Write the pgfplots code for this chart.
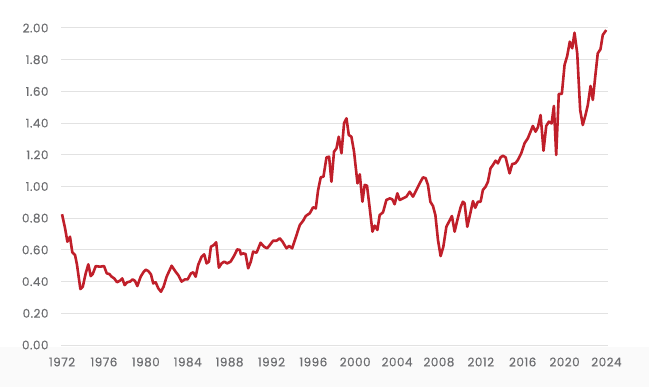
\documentclass[border=0pt]{standalone}
\usepackage{pgfplots}
\pgfplotsset{compat=1.18}
\usepackage{fontspec}
\setmainfont{Poppins}
\newfontfamily\labfont{Poppins}[LetterSpace=4, FakeBold=0.35]
\definecolor{linered}{HTML}{C01F2A}
\definecolor{gridgray}{HTML}{E2E2E2}
\definecolor{labgray}{HTML}{6D6E71}
\begin{document}
\begin{tikzpicture}[x=1bp,y=1bp]
\fill[white] (0,0) rectangle (649,387);
\fill[black!2] (0,0) rectangle (649,40);
\useasboundingbox (0,0) rectangle (649,387);
\begin{axis}[
  at={(61bp,42bp)}, anchor=south west,
  scale only axis, width=547bp, height=317bp,
  xmin=1971.9, xmax=2024.15, ymin=0, ymax=2,
  axis line style={draw=none},
  xtick={1972,1976,...,2024},
  ytick={0,0.2,...,2.01},
  major tick length=0pt,
  ymajorgrids, grid style={gridgray, line width=1bp},
  tick label style={font=\labfont\fontsize{12}{13}\selectfont, text=labgray},
  /pgf/number format/assume math mode=true,
  x tick label style={/pgf/number format/1000 sep={}, yshift=-9bp},
  y tick label style={/pgf/number format/.cd, fixed, fixed zerofill, precision=2, /tikz/.cd, xshift=-9bp},
  clip=false,
]
\addplot[linered, line width=2.6bp, line join=round] coordinates {
(1972.0,0.825)(1972.29,0.736)(1972.51,0.652)(1972.76,0.683)(1972.98,0.585)(1973.24,0.568)(1973.43,0.505)(1973.75,0.353)(1973.98,0.368)
(1974.26,0.452)(1974.51,0.509)(1974.74,0.435)(1974.93,0.448)(1975.22,0.498)(1975.63,0.494)(1976.01,0.498)(1976.27,0.452)(1976.51,0.448)
(1976.74,0.431)(1976.99,0.42)(1977.25,0.396)(1977.53,0.406)(1977.75,0.42)(1977.98,0.378)(1978.23,0.396)(1978.49,0.40)(1978.75,0.414)
(1978.97,0.404)(1979.19,0.372)(1979.51,0.431)(1979.8,0.462)(1980.0,0.475)(1980.23,0.467)(1980.49,0.446)(1980.71,0.389)(1980.94,0.396)
(1981.19,0.358)(1981.45,0.336)(1981.7,0.368)(1981.99,0.431)(1982.47,0.50)(1982.85,0.462)(1983.1,0.441)(1983.42,0.40)(1983.74,0.414)
(1984.0,0.414)(1984.31,0.452)(1984.53,0.459)(1984.76,0.431)(1985.0,0.505)(1985.33,0.557)(1985.58,0.572)(1985.81,0.515)(1986.03,0.526)
(1986.22,0.62)(1986.5,0.631)(1986.72,0.648)(1986.98,0.488)(1987.24,0.515)(1987.49,0.526)(1987.77,0.515)(1988.1,0.526)(1988.44,0.563)
(1988.73,0.603)(1988.98,0.600)(1989.08,0.572)(1989.3,0.578)(1989.53,0.574)(1989.78,0.484)(1990.03,0.526)(1990.25,0.589)(1990.58,0.582)
(1990.96,0.645)(1991.3,0.62)(1991.59,0.61)(1991.85,0.631)(1992.16,0.658)(1992.49,0.658)(1992.8,0.673)(1993.06,0.652)(1993.44,0.61)
(1993.69,0.625)(1993.98,0.61)(1994.4,0.694)(1994.71,0.757)(1995.03,0.784)(1995.28,0.814)(1995.66,0.831)(1995.98,0.869)(1996.24,0.862)
(1996.46,0.978)(1996.71,1.058)(1996.97,1.062)(1997.26,1.184)(1997.51,1.188)(1997.73,1.03)(1997.98,1.22)(1998.21,1.24)(1998.43,1.314)
(1998.69,1.21)(1998.94,1.40)(1999.17,1.43)(1999.39,1.325)(1999.64,1.314)(1999.89,1.22)(2000.22,1.02)(2000.44,1.077)(2000.69,0.904)
(2000.91,1.01)(2001.13,1.005)(2001.39,0.862)(2001.65,0.715)(2001.87,0.753)(2002.12,0.726)(2002.34,0.82)(2002.66,0.837)(2002.98,0.915)
(2003.3,0.925)(2003.55,0.919)(2003.77,0.888)(2004.03,0.957)(2004.25,0.915)(2004.57,0.925)(2004.89,0.936)(2005.21,0.967)(2005.52,0.936)
(2005.85,0.978)(2006.16,1.02)(2006.48,1.058)(2006.73,1.052)(2006.95,1.01)(2007.18,0.904)(2007.43,0.877)(2007.66,0.82)(2007.91,0.662)
(2008.16,0.561)(2008.42,0.62)(2008.71,0.746)(2008.96,0.778)(2009.24,0.814)(2009.5,0.715)(2009.76,0.789)(2010.07,0.869)(2010.29,0.904)
(2010.45,0.894)(2010.71,0.746)(2010.96,0.82)(2011.25,0.908)(2011.47,0.866)(2011.72,0.904)(2011.98,0.904)(2012.2,0.978)(2012.46,0.999)
(2012.68,1.03)(2012.93,1.115)(2013.16,1.136)(2013.41,1.163)(2013.63,1.146)(2013.89,1.184)(2014.11,1.194)(2014.37,1.184)(2014.59,1.125)
(2014.75,1.083)(2015.0,1.142)(2015.29,1.146)(2015.54,1.167)(2015.86,1.209)(2016.18,1.273)(2016.49,1.304)(2016.75,1.346)(2016.97,1.382)
(2017.23,1.346)(2017.45,1.373)(2017.71,1.451)(2017.99,1.226)(2018.25,1.382)(2018.5,1.409)(2018.76,1.398)(2018.98,1.508)(2019.2,1.199)
(2019.45,1.584)(2019.74,1.584)(2020.0,1.767)(2020.25,1.823)(2020.5,1.914)(2020.73,1.872)(2020.95,1.97)(2021.21,1.84)(2021.49,1.483)
(2021.74,1.388)(2022.0,1.451)(2022.22,1.514)(2022.48,1.634)(2022.7,1.546)(2022.93,1.693)(2023.17,1.84)(2023.43,1.866)(2023.65,1.956)
(2023.98,1.987)
};
\end{axis}
\end{tikzpicture}
\end{document}
